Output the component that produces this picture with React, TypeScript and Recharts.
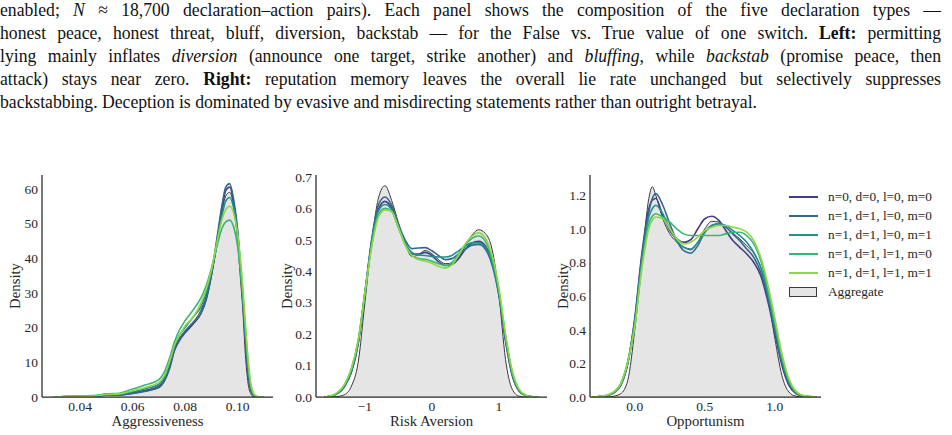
import React from "react";
import { ComposedChart, Area, Line, XAxis, YAxis } from "recharts";

// series: viridis palette, order matches legend
const SERIES_NAMES = [
  "n=0, d=0, l=0, m=0",
  "n=1, d=1, l=0, m=0",
  "n=1, d=1, l=0, m=1",
  "n=1, d=1, l=1, m=0",
  "n=1, d=1, l=1, m=1",
];
const COLORS = ["#433e85", "#31688e", "#21918c", "#35b779", "#90d743"];

// Aggressiveness
const aggrX = [0.03, 0.035, 0.04, 0.045, 0.05, 0.055, 0.06, 0.065, 0.07, 0.072, 0.074, 0.076, 0.078, 0.08, 0.083, 0.086, 0.088, 0.09, 0.092, 0.094, 0.0955, 0.097, 0.0985, 0.1, 0.101, 0.102, 0.103, 0.104, 0.105, 0.106, 0.107, 0.108, 0.11];
const aggrAll = [0, 0.1, 0.2, 0.2, 0.8, 0.6, 1.3, 2.0, 3.2, 5.0, 8.5, 14, 17, 19, 21.5, 25, 29, 35, 43, 53, 58, 59, 55, 45, 35, 25, 12, 4, 1.0, 0.1, 0, 0, 0];
const aggrS0 = [0, 0.1, 0.2, 0.2, 0.6, 0.6, 1.1, 1.8, 2.8, 4.5, 8, 13.5, 16.5, 18.5, 21, 24, 28, 35, 44, 54, 59.5, 60.5, 56, 47, 38, 28, 16, 6.5, 2.0, 0.5, 0.1, 0, 0];
const aggrS1 = [0, 0.1, 0.2, 0.2, 0.5, 0.6, 1.0, 1.7, 2.7, 4.5, 8.5, 14, 17, 19, 21.5, 24, 28, 35, 45, 55, 60.5, 61.5, 57, 48.5, 39, 29, 17, 7.5, 2.5, 0.6, 0.1, 0, 0];
const aggrS2 = [0, 0.1, 0.2, 0.3, 0.7, 0.8, 1.5, 2.4, 3.6, 5.5, 9.5, 15, 18, 20, 23, 26, 30, 36, 44, 52, 56.5, 57.5, 54.5, 47, 39, 29, 18, 8.5, 3, 0.8, 0.2, 0, 0];
const aggrS3 = [0, 0.1, 0.3, 0.4, 0.9, 1.1, 2.3, 3.5, 5.0, 7, 11, 16, 19.5, 22, 25, 28.5, 32, 37, 43, 48.5, 50.5, 51, 49, 43.5, 37, 29, 19.5, 10, 3.5, 1.0, 0.2, 0, 0];
const aggrS4 = [0, 0.1, 0.2, 0.3, 0.7, 0.9, 1.8, 2.8, 4.2, 6, 10, 15, 18, 20.5, 23, 27, 31, 36.5, 44, 51, 54, 55, 53, 47, 40.5, 32, 21, 11, 4, 1.2, 0.3, 0.05, 0];

// Risk Aversion
const riskX = [-1.6, -1.5, -1.4, -1.3, -1.2, -1.1, -1.0, -0.9, -0.8, -0.7, -0.6, -0.5, -0.4, -0.3, -0.2, -0.1, 0, 0.1, 0.2, 0.3, 0.4, 0.5, 0.6, 0.7, 0.8, 0.9, 1.0, 1.1, 1.2, 1.3, 1.4, 1.5, 1.6];
const riskAll = [0, 0, 0.002, 0.008, 0.035, 0.11, 0.3, 0.49, 0.63, 0.672, 0.625, 0.555, 0.49, 0.447, 0.452, 0.466, 0.456, 0.437, 0.424, 0.425, 0.445, 0.48, 0.515, 0.532, 0.52, 0.47, 0.33, 0.12, 0.025, 0.003, 0, 0, 0];
const riskS0 = [0, 0.003, 0.012, 0.035, 0.08, 0.17, 0.33, 0.49, 0.595, 0.622, 0.6, 0.545, 0.49, 0.455, 0.455, 0.46, 0.45, 0.43, 0.418, 0.422, 0.44, 0.47, 0.49, 0.495, 0.48, 0.43, 0.33, 0.18, 0.07, 0.02, 0.005, 0.001, 0];
const riskS1 = [0, 0.003, 0.012, 0.035, 0.08, 0.17, 0.33, 0.5, 0.61, 0.636, 0.61, 0.55, 0.5, 0.472, 0.474, 0.475, 0.465, 0.45, 0.437, 0.44, 0.455, 0.47, 0.483, 0.485, 0.47, 0.42, 0.325, 0.18, 0.07, 0.02, 0.005, 0.001, 0];
const riskS2 = [0, 0.003, 0.013, 0.037, 0.085, 0.175, 0.33, 0.49, 0.59, 0.612, 0.595, 0.54, 0.49, 0.46, 0.452, 0.45, 0.447, 0.445, 0.445, 0.45, 0.465, 0.48, 0.49, 0.49, 0.475, 0.43, 0.335, 0.19, 0.075, 0.022, 0.005, 0.001, 0];
const riskS3 = [0, 0.004, 0.015, 0.04, 0.09, 0.18, 0.33, 0.48, 0.578, 0.6, 0.59, 0.54, 0.485, 0.45, 0.44, 0.438, 0.432, 0.424, 0.418, 0.428, 0.455, 0.485, 0.505, 0.512, 0.495, 0.44, 0.34, 0.195, 0.08, 0.024, 0.006, 0.001, 0];
const riskS4 = [0, 0.004, 0.016, 0.042, 0.092, 0.18, 0.33, 0.475, 0.57, 0.595, 0.59, 0.54, 0.485, 0.45, 0.437, 0.432, 0.425, 0.415, 0.41, 0.42, 0.45, 0.487, 0.512, 0.522, 0.505, 0.45, 0.35, 0.2, 0.085, 0.026, 0.006, 0.001, 0];

// Opportunism
const oppX = [-0.3, -0.25, -0.2, -0.15, -0.1, -0.05, 0, 0.05, 0.1, 0.125, 0.15, 0.2, 0.25, 0.3, 0.35, 0.4, 0.45, 0.5, 0.55, 0.6, 0.65, 0.7, 0.75, 0.8, 0.85, 0.9, 0.95, 1.0, 1.05, 1.1, 1.15, 1.2, 1.25, 1.3];
const oppAll = [0, 0, 0, 0.005, 0.02, 0.1, 0.4, 0.8, 1.18, 1.25, 1.2, 1.06, 0.97, 0.92, 0.89, 0.875, 0.92, 1.0, 1.045, 1.04, 1.01, 0.975, 0.94, 0.9, 0.855, 0.77, 0.6, 0.35, 0.13, 0.03, 0.005, 0, 0, 0];
const oppS0 = [0, 0.002, 0.008, 0.025, 0.07, 0.2, 0.47, 0.85, 1.12, 1.17, 1.18, 1.08, 0.99, 0.94, 0.92, 0.935, 1.0, 1.06, 1.075, 1.05, 0.99, 0.93, 0.89, 0.85, 0.8, 0.72, 0.57, 0.38, 0.19, 0.07, 0.02, 0.005, 0.001, 0];
const oppS1 = [0, 0.002, 0.008, 0.025, 0.07, 0.2, 0.46, 0.83, 1.1, 1.18, 1.21, 1.14, 1.03, 0.93, 0.87, 0.855, 0.9, 0.98, 1.02, 1.03, 1.01, 0.97, 0.93, 0.88, 0.83, 0.74, 0.59, 0.4, 0.21, 0.08, 0.025, 0.006, 0.001, 0];
const oppS2 = [0, 0.002, 0.009, 0.027, 0.075, 0.21, 0.45, 0.8, 1.07, 1.12, 1.14, 1.09, 1.0, 0.93, 0.89, 0.88, 0.92, 0.98, 1.02, 1.03, 1.02, 0.99, 0.96, 0.92, 0.86, 0.77, 0.62, 0.42, 0.22, 0.09, 0.03, 0.008, 0.002, 0];
const oppS3 = [0, 0.003, 0.01, 0.03, 0.08, 0.21, 0.43, 0.78, 1.03, 1.075, 1.09, 1.07, 1.04, 1.0, 0.97, 0.96, 0.96, 0.96, 0.96, 0.96, 0.97, 0.98, 0.98, 0.96, 0.91, 0.81, 0.64, 0.44, 0.24, 0.1, 0.03, 0.008, 0.002, 0];
const oppS4 = [0, 0.003, 0.01, 0.03, 0.08, 0.21, 0.42, 0.76, 1.0, 1.05, 1.07, 1.06, 1.0, 0.94, 0.91, 0.92, 0.95, 0.99, 1.01, 1.02, 1.02, 1.01, 1.0, 0.98, 0.93, 0.83, 0.67, 0.47, 0.26, 0.11, 0.035, 0.01, 0.002, 0];

const SERIF = "'Liberation Serif', 'DejaVu Serif', serif";
const INK = "#262626";

interface PanelProps {
  left: number;
  xs: number[];
  agg: number[];
  series: number[][];
  xDomain: [number, number];
  xTicks: number[];
  xFmt: (v: number) => string;
  yDomain: [number, number];
  yTicks: number[];
  yFmt: (v: number) => string;
  xLabel: string;
  yLabelOffset: number;
}

const Panel = ({ left, xs, agg, series, xDomain, xTicks, xFmt, yDomain, yTicks, yFmt, xLabel, yLabelOffset }: PanelProps) => {
  // one row per x position
  const data = xs.map((x, i) => {
    const row: Record<string, number> = { x, agg: agg[i] };
    series.forEach((s, k) => { row["s" + k] = s[i]; });
    return row;
  });
  const tickStyle = { fill: INK, fontSize: 13.5, fontFamily: SERIF };

  return (
    <div style={{ position: "absolute", left, top: 170 }}>
      <ComposedChart width={279} height={265} data={data} margin={{ top: 5, right: 6, left: 0, bottom: 0 }}>
        <XAxis
          type="number"
          dataKey="x"
          domain={xDomain}
          allowDataOverflow
          ticks={xTicks}
          interval={0}
          tickFormatter={xFmt}
          tickLine={false}
          tickSize={2}
          tickMargin={2}
          height={38}
          stroke={INK}
          strokeWidth={1.25}
          tick={tickStyle}
          label={{ value: xLabel, position: "insideBottom", offset: 9, fill: INK, fontSize: 14.8, fontFamily: SERIF }}
        />
        <YAxis
          type="number"
          domain={yDomain}
          allowDataOverflow
          ticks={yTicks}
          interval={0}
          tickFormatter={yFmt}
          tickLine={false}
          tickSize={2}
          tickMargin={2}
          width={42}
          stroke={INK}
          strokeWidth={1.25}
          tick={tickStyle}
          label={{ value: "Density", angle: -90, position: "insideLeft", offset: yLabelOffset, fill: INK, fontSize: 14.8, fontFamily: SERIF, style: { textAnchor: "middle" } }}
        />
        <Area
          type="monotone"
          dataKey="agg"
          fill="#e5e5e5"
          fillOpacity={1}
          stroke="#3a3a3a"
          strokeWidth={1}
          dot={false}
          activeDot={false}
          isAnimationActive={false}
        />
        {series.map((_, k) => (
          <Line
            key={k}
            type="monotone"
            dataKey={"s" + k}
            stroke={COLORS[k]}
            strokeWidth={1.6}
            dot={false}
            activeDot={false}
            isAnimationActive={false}
          />
        ))}
      </ComposedChart>
    </div>
  );
};

const Legend = () => (
  <div style={{ position: "absolute", left: 789, top: 187, fontFamily: SERIF, fontSize: 13.3, color: INK }}>
    {SERIES_NAMES.map((name, k) => (
      <div key={name} style={{ display: "flex", alignItems: "center", height: 19 }}>
        <div style={{ width: 29, height: 2, background: COLORS[k], marginRight: 10 }} />
        <span>{name}</span>
      </div>
    ))}
    <div style={{ display: "flex", alignItems: "center", height: 19 }}>
      <div style={{ width: 26, height: 8, background: "#e5e5e5", border: "1px solid #3a3a3a", marginRight: 11 }} />
      <span>Aggregate</span>
    </div>
  </div>
);

// caption lines are set a little wider, then squeezed towards the narrow face of the original
const SQUEEZE = 0.94;
const lineStyle: React.CSSProperties = {
  width: 941 / SQUEEZE,
  height: 23,
  lineHeight: "23px",
  textAlign: "justify",
  textAlignLast: "justify",
  whiteSpace: "nowrap",
};

const Caption = () => (
  <div
    style={{
      position: "absolute",
      left: 0,
      top: -2,
      fontFamily: SERIF,
      fontSize: 18.8,
      color: "#111",
      transform: `scaleX(${SQUEEZE})`,
      transformOrigin: "0 0",
    }}
  >
    <div style={lineStyle}>
      enabled; <i>N</i> ≈ 18,700 declaration–action pairs). Each panel shows the composition of the five declaration types —
    </div>
    <div style={lineStyle}>
      honest peace, honest threat, bluff, diversion, backstab — for the False vs. True value of one switch. <b>Left:</b> permitting
    </div>
    <div style={lineStyle}>
      lying mainly inflates <i>diversion</i> (announce one target, strike another) and <i>bluffing</i>, while <i>backstab</i> (promise peace, then
    </div>
    <div style={lineStyle}>
      attack) stays near zero. <b>Right:</b> reputation memory leaves the overall lie rate unchanged but selectively suppresses
    </div>
    <div style={{ ...lineStyle, textAlign: "left", textAlignLast: "left" }}>
      backstabbing. Deception is dominated by evasive and misdirecting statements rather than outright betrayal.
    </div>
  </div>
);

const fmt1 = (v: number) => v.toFixed(1);
const fmtSigned = (v: number) => (v < 0 ? "\u2212" + Math.abs(v) : String(v));

export default function App() {
  return (
    <div style={{ position: "absolute", left: 0, top: 0, width: 952, height: 435, background: "#fff", overflow: "hidden" }}>
      <Caption />
      <Panel
        left={0}
        xs={aggrX}
        agg={aggrAll}
        series={[aggrS0, aggrS1, aggrS2, aggrS3, aggrS4]}
        xDomain={[0.0255, 0.1135]}
        xTicks={[0.04, 0.06, 0.08, 0.1]}
        xFmt={(v) => v.toFixed(2)}
        yDomain={[0, 64]}
        yTicks={[0, 10, 20, 30, 40, 50, 60]}
        yFmt={(v) => String(v)}
        xLabel="Aggressiveness"
        yLabelOffset={15}
      />
      <Panel
        left={274}
        xs={riskX}
        agg={riskAll}
        series={[riskS0, riskS1, riskS2, riskS3, riskS4]}
        xDomain={[-1.73, 1.72]}
        xTicks={[-1, 0, 1]}
        xFmt={fmtSigned}
        yDomain={[0, 0.706]}
        yTicks={[0, 0.1, 0.2, 0.3, 0.4, 0.5, 0.6, 0.7]}
        yFmt={fmt1}
        xLabel="Risk Aversion"
        yLabelOffset={13}
      />
      <Panel
        left={548}
        xs={oppX}
        agg={oppAll}
        series={[oppS0, oppS1, oppS2, oppS3, oppS4]}
        xDomain={[-0.32, 1.33]}
        xTicks={[0, 0.5, 1]}
        xFmt={fmt1}
        yDomain={[0, 1.32]}
        yTicks={[0, 0.2, 0.4, 0.6, 0.8, 1.0, 1.2]}
        yFmt={fmt1}
        xLabel="Opportunism"
        yLabelOffset={15}
      />
      <Legend />
    </div>
  );
}
